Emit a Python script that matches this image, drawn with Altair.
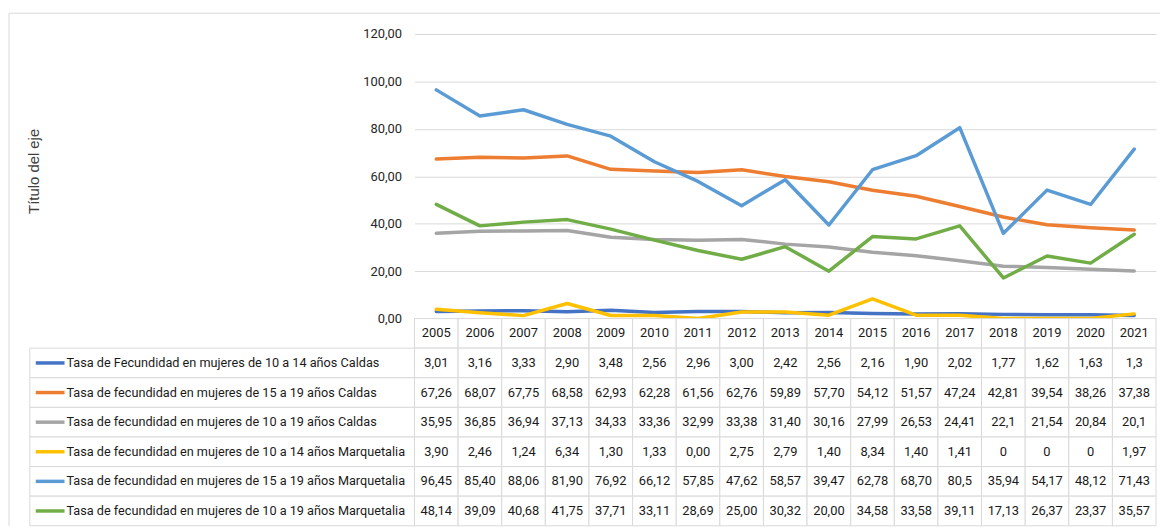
import altair as alt
import pandas as pd

years = [str(y) for y in range(2005, 2022)]
series_names = [
    "Tasa de Fecundidad en mujeres de 10 a 14 años Caldas",
    "Tasa de fecundidad en mujeres de 15 a 19 años  Caldas",
    "Tasa de fecundidad en mujeres de 10 a 19 años Caldas",
    "Tasa de fecundidad en mujeres de 10 a 14 años Marquetalia",
    "Tasa de fecundidad en mujeres de 15 a 19 años Marquetalia",
    "Tasa de fecundidad en mujeres de 10 a 19 años Marquetalia",
]
colors = ["#4472C4", "#ED7D31", "#A5A5A5", "#FFC000", "#5B9BD5", "#70AD47"]

caldas_10_14 = ["3,01", "3,16", "3,33", "2,90", "3,48", "2,56", "2,96", "3,00", "2,42", "2,56", "2,16", "1,90", "2,02", "1,77", "1,62", "1,63", "1,3"]
caldas_15_19 = ["67,26", "68,07", "67,75", "68,58", "62,93", "62,28", "61,56", "62,76", "59,89", "57,70", "54,12", "51,57", "47,24", "42,81", "39,54", "38,26", "37,38"]
caldas_10_19 = ["35,95", "36,85", "36,94", "37,13", "34,33", "33,36", "32,99", "33,38", "31,40", "30,16", "27,99", "26,53", "24,41", "22,1", "21,54", "20,84", "20,1"]
marq_10_14 = ["3,90", "2,46", "1,24", "6,34", "1,30", "1,33", "0,00", "2,75", "2,79", "1,40", "8,34", "1,40", "1,41", "0", "0", "0", "1,97"]
marq_15_19 = ["96,45", "85,40", "88,06", "81,90", "76,92", "66,12", "57,85", "47,62", "58,57", "39,47", "62,78", "68,70", "80,5", "35,94", "54,17", "48,12", "71,43"]
marq_10_19 = ["48,14", "39,09", "40,68", "41,75", "37,71", "33,11", "28,69", "25,00", "30,32", "20,00", "34,58", "33,58", "39,11", "17,13", "26,37", "23,37", "35,57"]

y_ticks = [0, 20, 40, 60, 80, 100, 120]
axis_title = "Título del eje"
HEADER = "header"

all_series = [caldas_10_14, caldas_15_19, caldas_10_19, marq_10_14, marq_15_19, marq_10_19]

rows = []
for name, vals in zip(series_names, all_series):
    for yr, s in zip(years, vals):
        rows.append({"row": name, "anio": yr, "texto": s, "valor": float(s.replace(",", "."))})
df = pd.DataFrame(rows)
hdr = pd.DataFrame({"row": [HEADER] * len(years), "anio": years, "texto": years})
grid_df = pd.concat([hdr, df[["row", "anio", "texto"]]], ignore_index=True)
lab_df = pd.DataFrame({"row": series_names})

FONT = "Roboto"
TXT = "#1a1a1a"
BORDER = "#D9D9D9"
W_LAB, W_PLOT, H_PLOT, H_TAB = 388, 748, 287, 209

color_scale = alt.Scale(domain=series_names, range=colors)
row_scale = alt.Scale(domain=[HEADER] + series_names, paddingInner=0, paddingOuter=0)
x_band = alt.Scale(type="band", domain=years, paddingInner=0, paddingOuter=0)

one = pd.DataFrame({"k": [0]})
frame_top = alt.Chart(one).mark_rule(color=BORDER, strokeWidth=1).encode(
    x=alt.value(-21), x2=alt.value(W_LAB + W_PLOT + 4), y=alt.value(-21)
)
frame_left = alt.Chart(one).mark_rule(color=BORDER, strokeWidth=1).encode(
    x=alt.value(-21), y=alt.value(-21), y2=alt.value(H_PLOT + H_TAB)
)
blank = alt.layer(frame_top, frame_left).properties(width=W_LAB, height=H_PLOT)

lines = alt.Chart(df).mark_line(strokeWidth=3.5, strokeJoin="round", strokeCap="round").encode(
    x=alt.X("anio:O", scale=alt.Scale(type="point", domain=years, padding=0.5), axis=None),
    y=alt.Y(
        "valor:Q",
        scale=alt.Scale(domain=[0, 120], nice=False),
        axis=alt.Axis(
            values=y_ticks,
            labelExpr="replace(format(datum.value, '.2f'), '.', ',')",
            labelFont=FONT, labelFontSize=13, labelColor="#262626", labelPadding=13,
            ticks=False, tickSize=0, domain=False,
            grid=True, gridColor=BORDER, gridWidth=1,
            title=axis_title, titleFont="Liberation Sans", titleFontSize=15,
            titleFontWeight="normal", titleColor="#404040",
            titleX=-376, titleY=138, titleAngle=-90,
        ),
    ),
    color=alt.Color("row:N", scale=color_scale, legend=None),
).properties(width=W_PLOT, height=H_PLOT)

lab_cells = alt.Chart(lab_df).mark_rect(fill="white", stroke=BORDER, strokeWidth=1).encode(
    x=alt.value(0), x2=alt.value(W_LAB),
    y=alt.Y("row:N", scale=row_scale, axis=None),
)
lab_sym = alt.Chart(lab_df).mark_rule(strokeWidth=3.5).encode(
    x=alt.value(6), x2=alt.value(35),
    y=alt.Y("row:N", scale=row_scale, axis=None, bandPosition=0.5),
    color=alt.Color("row:N", scale=color_scale, legend=None),
)
lab_txt = alt.Chart(lab_df).mark_text(align="left", baseline="middle", font=FONT, fontSize=12.8, color=TXT).encode(
    x=alt.value(37),
    y=alt.Y("row:N", scale=row_scale, axis=None, bandPosition=0.5),
    text="row:N",
)
labels = alt.layer(lab_cells, lab_sym, lab_txt).properties(width=W_LAB, height=H_TAB)

grid_cells = alt.Chart(grid_df).mark_rect(fill="white", stroke=BORDER, strokeWidth=1).encode(
    x=alt.X("anio:O", scale=x_band, axis=None),
    y=alt.Y("row:N", scale=row_scale, axis=None),
)
grid_txt = alt.Chart(grid_df).mark_text(align="center", baseline="middle", font=FONT, fontSize=13, color=TXT).encode(
    x=alt.X("anio:O", scale=x_band, axis=None, bandPosition=0.5),
    y=alt.Y("row:N", scale=row_scale, axis=None, bandPosition=0.5),
    text="texto:N",
)
grid = alt.layer(grid_cells, grid_txt).properties(width=W_PLOT, height=H_TAB)

chart = alt.concat(blank, lines, labels, grid, columns=2, spacing=0, bounds="flush").configure_view(
    stroke=None
).properties(padding={"left": 0, "top": 2, "right": 0, "bottom": 0}, background="white")

chart.save("out.html", embed_options={"renderer": "svg", "actions": False})
